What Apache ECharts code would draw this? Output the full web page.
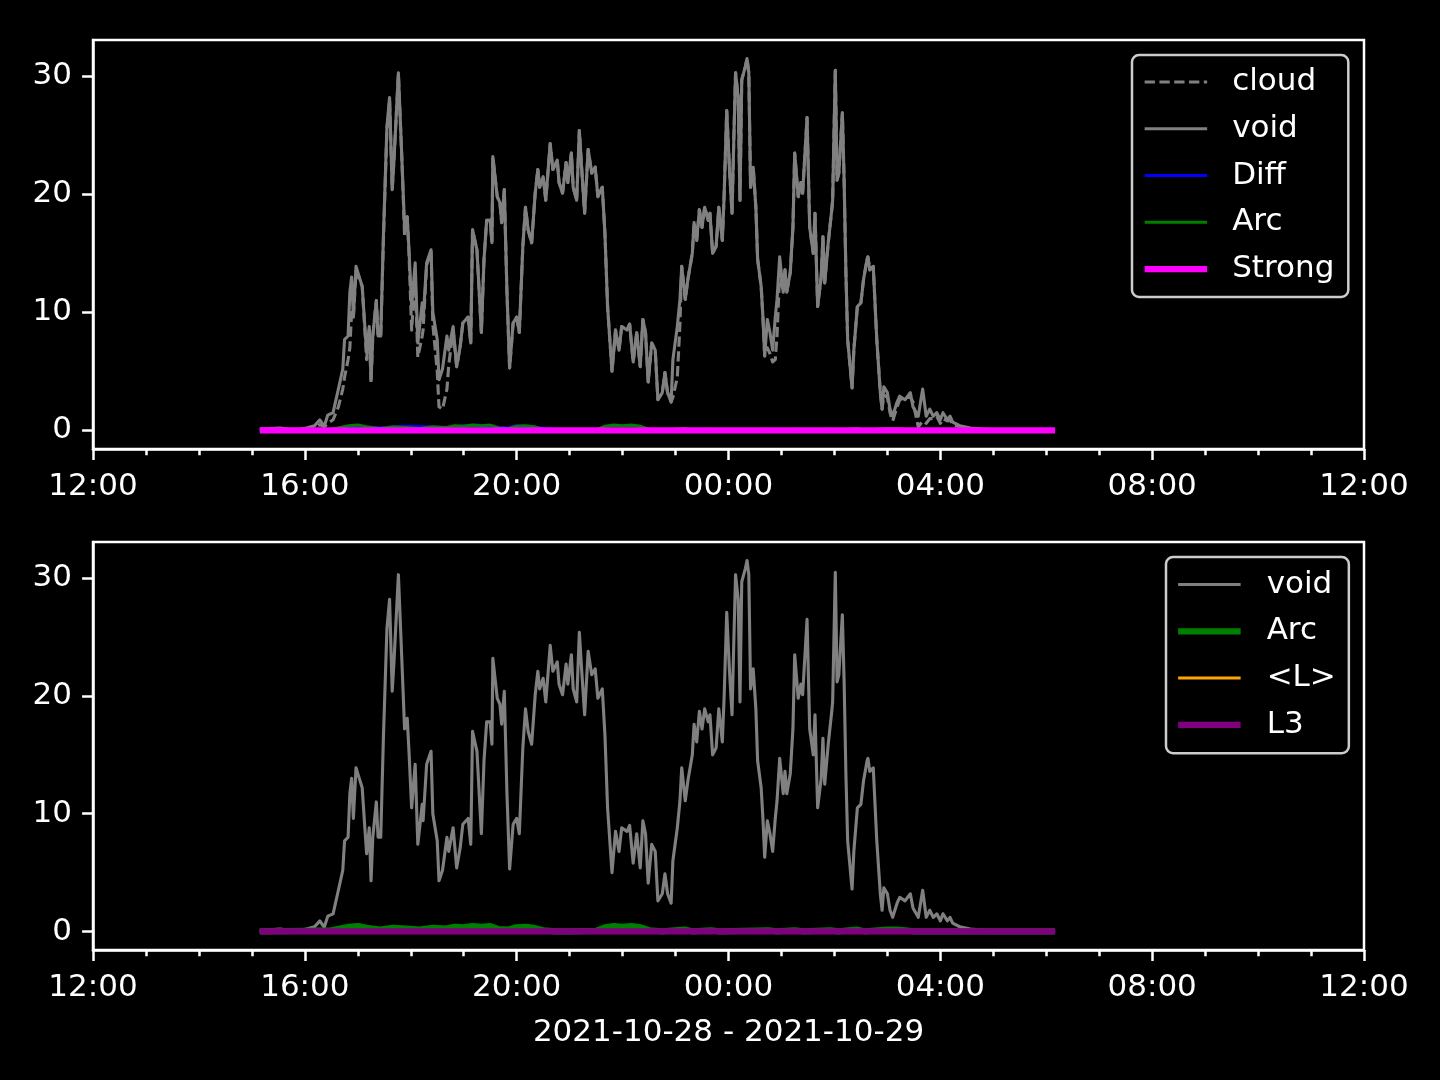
<!DOCTYPE html>
<html><head><meta charset="utf-8">
<script src="https://cdn.jsdelivr.net/npm/echarts@6/dist/echarts.min.js"></script>
<style>html,body{margin:0;background:#000}#c{width:1440px;height:1080px}</style>
</head><body><div id="c"></div>
<script>
const xTickLabels = ['12:00','16:00','20:00','00:00','04:00','08:00','12:00'];
const yTicks = [0, 10, 20, 30];
const dateLabel = '2021-10-28 - 2021-10-29';

const voidTimes = [
'15:09','15:20','15:32','15:43','15:54','16:02','16:11','16:17','16:22','16:26',
'16:32','16:38','16:43','16:45','16:49','16:51','16:53','16:55','16:58','17:00',
'17:05','17:08','17:10','17:13','17:15','17:17','17:21','17:23','17:26','17:29',
'17:33','17:36','17:39','17:41','17:46','17:50','17:53','17:56','17:58','18:01',
'18:05','18:08','18:13','18:14','18:18','18:23','18:25','18:30','18:32','18:36',
'18:41','18:43','18:48','18:52','18:56','18:59','19:05','19:08','19:10','19:15',
'19:20','19:23','19:26','19:30','19:32','19:33','19:38','19:41','19:43','19:46',
'19:49','19:52','19:56','20:00','20:03','20:07','20:10','20:13','20:17','20:21',
'20:24','20:26','20:30','20:33','20:38','20:41','20:46','20:48','20:52','20:56',
'20:58','21:02','21:04','21:08','21:11','21:14','21:17','21:21','21:25','21:29',
'21:32','21:37','21:40','21:43','21:48','21:52','21:56','21:59','22:05','22:08',
'22:12','22:16','22:20','22:23','22:26','22:29','22:33','22:37','22:40','22:45',
'22:48','22:51','22:55','22:57','23:02','23:05','23:07','23:11','23:14','23:19',
'23:21','23:24','23:27','23:30','23:33','23:37','23:39','23:42','23:46','23:49',
'23:53','23:55','23:58','00:01','00:04','00:06','00:08','00:11','00:13','00:15',
'00:19','00:21','00:23','00:25','00:28','00:31','00:33','00:37','00:39','00:41',
'00:44','00:47','00:50','00:53','00:55','00:58','01:02','01:04','01:06','01:10',
'01:13','01:15','01:19','01:22','01:24','01:29','01:32','01:36','01:38','01:41',
'01:45','01:47','01:49','01:53','01:57','01:58','02:01','02:03','02:05','02:09',
'02:11','02:13','02:15','02:20','02:22','02:26','02:30','02:33','02:37','02:38',
'02:40','02:44','02:48','02:52','02:54','02:56','03:00','03:03','03:06','03:11',
'03:14','03:20','03:26','03:29','03:35','03:40','03:44','03:48','03:52','03:56',
'04:00','04:03','04:08','04:11','04:14','04:22','04:34','04:51','05:08','05:30','06:10'
];
const voidValues = [
0.1,0.15,0.2,0.1,0.1,0.2,0.4,0.9,0.35,1.3,
1.5,3.5,5.2,7.7,8.0,11.7,13.0,9.6,13.9,13.4,
12.2,8.8,6.6,8.8,4.3,8.0,11.0,8.0,8.0,16.4,
25.7,28.2,20.4,22.9,30.3,22.9,17.2,18.1,15.3,10.5,
14.2,7.4,10.8,9.4,14.2,15.3,10.0,7.7,4.3,5.2,
8.0,6.8,8.8,5.4,7.1,9.1,9.6,7.4,17.0,15.3,
8.3,14.5,17.8,17.8,15.9,23.2,19.8,19.3,17.6,20.4,
11.7,5.3,9.1,9.6,8.3,15.6,18.9,17.0,15.9,20.1,
22.1,20.6,21.5,19.5,24.3,22.1,22.9,21.0,20.1,22.7,
21.0,23.5,20.6,19.5,25.4,21.8,18.4,23.8,21.8,22.3,
19.8,20.6,16.7,10.5,5.0,8.5,6.8,8.8,8.5,9.0,
5.8,8.3,5.4,9.4,8.3,4.1,7.4,6.8,2.6,3.2,
4.9,3.2,2.4,6.0,8.8,11.1,13.9,11.1,12.8,15.0,
17.6,16.1,18.7,17.2,18.9,17.8,18.4,15.0,15.6,18.9,
16.1,19.8,27.1,22.3,18.4,24.6,30.3,28.2,19.5,29.7,
30.8,31.5,30.3,20.6,22.3,18.9,14.5,12.2,9.6,6.3,
9.4,8.3,6.8,9.6,11.1,14.7,11.7,13.6,11.7,13.4,
17.2,23.5,19.8,21.0,20.1,26.5,17.2,15.0,18.4,10.5,
13.0,16.4,12.5,15.9,18.7,19.5,30.5,21.2,21.8,26.9,
21.2,13.4,7.7,3.6,6.8,10.5,10.8,12.8,14.5,14.7,
13.6,13.9,7.7,3.2,1.8,3.7,3.2,1.8,1.2,2.4,
2.9,2.6,3.2,2.0,1.2,3.5,1.2,1.8,1.2,1.5,
0.9,1.5,0.9,1.2,0.7,0.4,0.2,0.1,0.05,0.05,0.05
];
const cloudValues = [
0.1,0.1,0.1,0.05,0.05,0.1,0.2,0.5,0.3,0.6,
0.9,2.0,3.5,4.5,6.0,7.0,10.0,9.6,13.5,13.4,
12.2,8.5,6.0,8.5,4.0,8.0,11.0,8.0,8.0,16.0,
25.5,28.0,20.4,22.9,30.2,22.9,16.5,18.1,15.0,8.5,
13.0,6.2,8.0,8.5,14.0,15.2,9.0,5.0,2.0,1.8,
3.5,5.5,8.5,5.4,7.1,9.1,9.6,7.4,17.0,15.3,
8.3,14.5,17.8,17.8,15.9,23.2,19.8,19.3,17.6,20.4,
11.7,5.3,9.1,9.6,8.3,15.6,18.9,17.0,15.9,20.1,
22.1,20.6,21.5,19.5,24.3,22.1,22.9,21.0,20.1,22.7,
21.0,23.5,20.6,19.5,25.4,21.8,18.4,23.8,21.8,22.3,
19.8,20.6,16.7,10.5,5.0,8.5,6.8,8.8,8.5,9.0,
5.8,8.3,5.4,9.4,8.3,4.1,7.4,6.8,2.6,3.2,
4.9,3.2,2.4,2.8,4.5,9.0,13.9,11.1,12.8,15.0,
17.6,16.1,18.7,17.2,18.9,17.8,18.4,15.0,15.6,18.9,
16.1,19.8,27.1,22.3,18.4,24.6,30.3,28.2,19.5,29.7,
30.8,31.5,30.3,20.6,22.3,18.9,14.5,12.2,9.6,6.3,
7.0,6.5,5.8,6.0,8.0,13.5,11.7,13.6,11.7,13.4,
17.2,23.5,19.8,21.0,20.1,26.5,17.2,15.0,18.4,10.5,
13.0,16.4,12.5,15.9,18.7,19.5,30.5,21.2,21.8,26.9,
21.2,13.4,7.7,3.6,6.8,10.5,10.8,12.8,14.5,14.7,
13.6,13.9,7.7,3.2,1.8,3.0,2.8,1.5,0.8,2.0,
2.6,2.8,2.8,2.4,0.3,0.8,0.6,1.0,1.0,1.2,
0.6,1.0,0.8,0.9,0.5,0.3,0.15,0.1,0.05,0.05,0.05
];

const diffTimes = ['15:09','16:30','16:50','17:00','17:30','17:50','18:20','18:40','19:00','19:15','19:30','19:50','20:00','20:15','20:40','21:00','06:10'];
const diffValues = [0.0,0.05,0.35,0.3,0.2,0.35,0.3,0.2,0.4,0.45,0.3,0.2,0.4,0.3,0.1,0.0,0.0];

const arcTimes = ['15:09','16:00','16:30','16:50','17:00','17:10','17:25','17:40','17:55','18:10','18:25','18:40','18:50','19:00','19:10','19:20','19:30','19:40','19:50','20:00','20:10','20:20','20:30','20:45','21:00','21:30','21:40','21:50','22:00','22:10','22:20','22:30','22:45','23:10','23:20','23:40','23:50','00:45','00:55','01:15','01:25','01:55','02:05','02:25','02:35','03:00','03:10','03:20','03:30','06:10'];
const arcValues = [0.0,0.05,0.1,0.4,0.45,0.3,0.15,0.3,0.25,0.15,0.3,0.25,0.4,0.35,0.45,0.4,0.45,0.2,0.15,0.35,0.4,0.3,0.1,0.0,0.0,0.05,0.35,0.45,0.4,0.45,0.35,0.1,0.0,0.15,0.0,0.1,0.0,0.1,0.0,0.1,0.0,0.1,0.0,0.15,0.0,0.15,0.15,0.1,0.0,0.0];

const strongTimes = ['15:09','06:10'];
const strongValues = [0.0, 0.0];
const lMeanTimes = ['15:09','06:10'];
const lMeanValues = [0.0, 0.0];
const l3Times = ['15:09','06:10'];
const l3Values = [0.0, 0.0];

function toH(t){ const p = t.split(':').map(Number); let v = p[0] + p[1]/60 - 12; if (v < 0) v += 24; return v; }
function pts(times, vals){ return times.map((t,i) => [toH(t), vals[i]]); }

const FONT = 'DejaVu Sans';
const W = 3.1, WT = 6.25;
const Y_MIN = -1.575, Y_MAX = 33.075;

function xAx(idx, withName){
  const a = {
    type:'value', gridIndex:idx, min:0, max:24, interval:4,
    axisLine:{show:true, onZero:false, lineStyle:{color:'#fff', width:2.5}},
    axisTick:{show:true, inside:false, length:10.9, lineStyle:{color:'#fff', width:2.5}},
    minorTick:{show:true, splitNumber:4, length:6.25, lineStyle:{color:'#fff', width:2.5}},
    splitLine:{show:false}, minorSplitLine:{show:false},
    axisLabel:{color:'#fff', fontFamily:FONT, fontSize:31, margin:22,
      formatter:(v)=> xTickLabels[Math.round(v/4)]}
  };
  if (withName){
    a.name = dateLabel; a.nameLocation = 'middle'; a.nameGap = 67;
    a.nameTextStyle = {color:'#fff', fontFamily:FONT, fontSize:31};
  }
  return a;
}
function yAx(idx){
  return {
    type:'value', gridIndex:idx, min:Y_MIN, max:Y_MAX,
    axisLine:{show:true, onZero:false, lineStyle:{color:'#fff', width:2.5}},
    axisTick:{show:true, inside:false, length:10.9, customValues:yTicks, lineStyle:{color:'#fff', width:2.5}},
    splitLine:{show:false},
    axisLabel:{color:'#fff', fontFamily:FONT, fontSize:31, margin:21, padding:[5,0,0,0], customValues:yTicks}
  };
}
function line(name, data, color, width, xi, extra){
  return Object.assign({
    name, type:'line', data, xAxisIndex:xi, yAxisIndex:xi, symbol:'none', showSymbol:false,
    lineStyle:{color, width, join:'round'}, itemStyle:{color}, animation:false, silent:true
  }, extra||{});
}
const legendBase = {
  orient:'vertical', selectedMode:false, itemWidth:62.5, itemHeight:14, itemGap:15.75,
  backgroundColor:'#000', borderColor:'#cccccc', borderWidth:2.5, borderRadius:7,
  textStyle:{color:'#fff', fontFamily:FONT, fontSize:31, lineHeight:31, padding:[0,0,0,20]},
  itemStyle:{opacity:0},
  formatter:(n)=> n.replace(/_b$/,'')
};

const chart = echarts.init(document.getElementById('c'), null, {renderer:'canvas'});
chart.setOption({
  backgroundColor:'#000',
  animation:false,
  grid:[
    {left:93, top:40, width:1271, height:409, show:true, borderColor:'#fff', borderWidth:2.5, backgroundColor:'#000'},
    {left:93, top:542, width:1271, height:408, show:true, borderColor:'#fff', borderWidth:2.5, backgroundColor:'#000'}
  ],
  xAxis:[xAx(0,false), xAx(1,true)],
  yAxis:[yAx(0), yAx(1)],
  legend:[
    Object.assign({}, legendBase, {left:1132, top:55, padding:[11.5,14,12.5,9.5],
      data:[
        {name:'cloud', lineStyle:{width:W, type:[10.3,4.5], color:'#808080'}},
        {name:'void', lineStyle:{width:W, color:'#808080'}},
        {name:'Diff', lineStyle:{width:W, color:'#0000ff'}},
        {name:'Arc', lineStyle:{width:W, color:'#008000'}},
        {name:'Strong', lineStyle:{width:WT, color:'#ff00ff'}}
      ]}),
    Object.assign({}, legendBase, {left:1166, top:557, padding:[12,13,13,9],
      textStyle:{color:'#fff', fontFamily:FONT, fontSize:31, lineHeight:31, padding:[0,0,0,21]},
      data:[
        {name:'void_b', lineStyle:{width:W, color:'#808080'}},
        {name:'Arc_b', lineStyle:{width:WT, color:'#008000'}},
        {name:'<L>', lineStyle:{width:W, color:'#ffa500'}},
        {name:'L3', lineStyle:{width:WT, color:'#800080'}}
      ]})
  ],
  series:[
    line('cloud', pts(voidTimes, cloudValues), '#808080', W, 0, {lineStyle:{color:'#808080', width:W, type:[10.3,4.5], join:'round'}}),
    line('void', pts(voidTimes, voidValues), '#808080', W, 0),
    line('Diff', pts(diffTimes, diffValues), '#0000ff', W, 0),
    line('Arc', pts(arcTimes, arcValues), '#008000', W, 0),
    line('Strong', pts(strongTimes, strongValues), '#ff00ff', WT, 0),
    line('void_b', pts(voidTimes, voidValues), '#808080', W, 1),
    line('Arc_b', pts(arcTimes, arcValues), '#008000', WT, 1),
    line('<L>', pts(lMeanTimes, lMeanValues), '#ffa500', W, 1),
    line('L3', pts(l3Times, l3Values), '#800080', WT, 1)
  ]
});
</script></body></html>
